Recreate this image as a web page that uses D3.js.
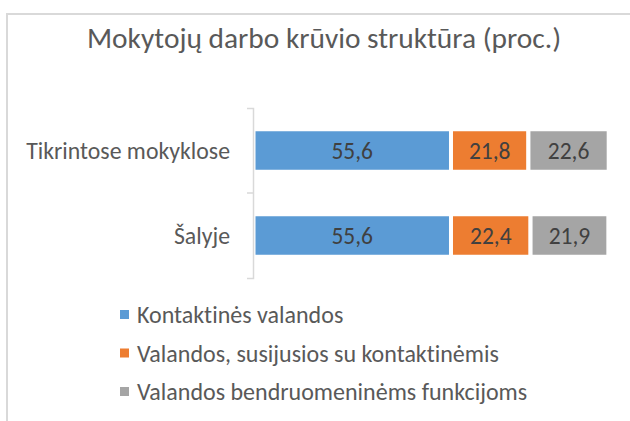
<!DOCTYPE html>
<html>
<head>
<meta charset="utf-8">
<script src="https://cdn.jsdelivr.net/npm/d3@7"></script>
<style>
  html, body { margin: 0; padding: 0; background: #fff; }
  svg { display: block; font-family: Carlito, Lato, "Open Sans", sans-serif; font-variant-ligatures: none; font-feature-settings: "liga" 0, "clig" 0; }
</style>
</head>
<body>
<svg id="chart" width="630" height="421"></svg>
<script>
const title = "Mokytojų darbo krūvio struktūra (proc.)";
const categories = ["Tikrintose mokyklose", "Šalyje"];
const seriesNames = ["Kontaktinės valandos", "Valandos, susijusios su kontaktinėmis", "Valandos bendruomeninėms funkcijoms"];
const kontaktines = [55.6, 55.6];
const susijusios = [21.8, 22.4];
const bendruomenines = [22.6, 21.9];
const colors = ["#5B9BD5", "#ED7D31", "#A5A5A5"];
const xDomain = [0, 100];

const svg = d3.select("#chart");

// chart border (left + top visible)
svg.append("rect")
  .attr("x", 7).attr("y", 14).attr("width", 700).attr("height", 500)
  .attr("fill", "none").attr("stroke", "#d9d9d9").attr("stroke-width", 2);

svg.append("text")
  .attr("x", 324).attr("y", 48)
  .attr("text-anchor", "middle")
  .attr("font-size", 29.4)
  .attr("fill", "#595959")
  .text(title);

const rows = categories.map((c, i) => ({
  cat: c, s0: kontaktines[i], s1: susijusios[i], s2: bendruomenines[i]
}));
const keys = ["s0", "s1", "s2"];
const stacked = d3.stack().keys(keys)(rows);

const x = d3.scaleLinear().domain(xDomain).range([253.5, 608.7]);
const y = d3.scaleBand().domain(categories).range([108, 278])
  .paddingInner(0.5).paddingOuter(0.25);

// bars
const layers = svg.append("g").selectAll("g").data(stacked).join("g")
  .attr("fill", (d, i) => colors[i]);
layers.selectAll("rect").data(d => d).join("rect")
  .attr("x", d => x(d[0]))
  .attr("y", d => y(d.data.cat))
  .attr("width", d => x(d[1]) - x(d[0]))
  .attr("height", y.bandwidth())
  .attr("stroke", "#fff").attr("stroke-width", 4);

// value labels
layers.selectAll("text").data(d => d).join("text")
  .attr("x", d => (x(d[0]) + x(d[1])) / 2)
  .attr("y", d => y(d.data.cat) + y.bandwidth() / 2)
  .attr("dy", "0.36em")
  .attr("text-anchor", "middle")
  .attr("font-size", 23.5)
  .attr("fill", "#404040")
  .text(d => d3.format(".1f")(d[1] - d[0]).replace(".", ","));

// axis
const axis = svg.append("g").attr("transform", "translate(253,0)")
  .call(d3.axisLeft(y).tickSizeInner(0).tickSizeOuter(6).tickPadding(23));
axis.select(".domain").attr("stroke", "#d9d9d9").attr("stroke-width", 1.5);
axis.attr("font-family", null);
axis.selectAll(".tick text").attr("font-size", 23.8).attr("fill", "#595959")
  .attr("dy", "0.36em");
// category boundary tick(s)
axis.selectAll("line.boundary").data(categories.slice(1)).join("line")
  .attr("class", "boundary")
  .attr("x1", -6).attr("x2", 0)
  .attr("y1", d => y(d) - y.step() * y.paddingInner() / 2)
  .attr("y2", d => y(d) - y.step() * y.paddingInner() / 2)
  .attr("stroke", "#d9d9d9").attr("stroke-width", 1.5);

// legend
const legend = svg.append("g").selectAll("g").data(seriesNames).join("g")
  .attr("transform", (d, i) => `translate(120,${314.5 + i * 38.5})`);
legend.append("rect")
  .attr("x", 0).attr("y", -4.5).attr("width", 9).attr("height", 9)
  .attr("fill", (d, i) => colors[i]);
legend.append("text")
  .attr("x", 17).attr("dy", "0.36em")
  .attr("font-size", 24)
  .attr("fill", "#595959")
  .text(d => d);
</script>
</body>
</html>
